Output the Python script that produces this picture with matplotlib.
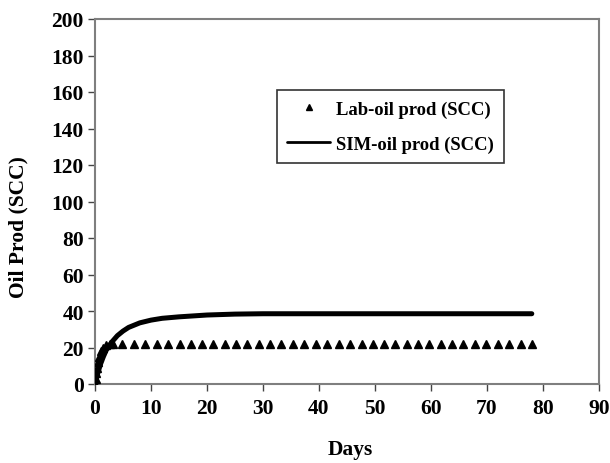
import numpy as np
import matplotlib
matplotlib.use('Agg')
import matplotlib.pyplot as plt

# Lab measured oil production (triangles)
lab_days = [0, 0.1, 0.25, 0.4, 0.6, 0.8, 1.1, 1.5, 2.0, 2.6, 3.3,
            4.9, 6.9, 9.0, 11.0, 13.0, 15.1, 17.1, 19.1, 21.1, 23.2, 25.2,
            27.2, 29.3, 31.3, 33.3, 35.4, 37.4, 39.4, 41.5, 43.5, 45.5,
            47.6, 49.6, 51.6, 53.6, 55.7, 57.7, 59.7, 61.8, 63.8, 65.8,
            67.9, 69.9, 71.9, 74.0, 76.0, 78.0]
lab_oil = [0, 3, 6, 9, 12, 15, 18, 20, 21.5, 22, 22,
           22, 22, 22, 22, 22, 22, 22, 22, 22, 22, 22,
           22, 22, 22, 22, 22, 22, 22, 22, 22, 22,
           22, 22, 22, 22, 22, 22, 22, 22, 22, 22,
           22, 22, 22, 22, 22, 22]

# Simulated oil production (line)
sim_days = [0, 0.5, 1, 1.5, 2, 3, 4, 5, 6, 8, 10, 12, 15, 20, 25, 30, 78]
sim_oil = [0, 6, 11, 15, 18.5, 23, 26.5, 29, 31, 33.5, 35, 36, 36.8, 37.8, 38.3, 38.5, 38.5]

x_ticks = [0, 10, 20, 30, 40, 50, 60, 70, 80, 90]
y_ticks = [0, 20, 40, 60, 80, 100, 120, 140, 160, 180, 200]

plt.rcParams['font.family'] = ['Liberation Serif', 'DejaVu Serif']
plt.rcParams['font.weight'] = 'bold'

fig = plt.figure(figsize=(6.1, 4.64), dpi=100)
ax = fig.add_axes([95/610, 1 - 385/464, 504/610, 365/464])

ax.plot(sim_days, sim_oil, color='black', linewidth=3.6, label='SIM-oil prod (SCC)',
        solid_capstyle='round', zorder=2)
ax.plot(lab_days, lab_oil, linestyle='none', marker='^', color='black', markersize=6,
        label='Lab-oil prod (SCC)', zorder=3)

ax.set_xlim(0, 90)
ax.set_ylim(0, 200)
ax.set_xticks(x_ticks)
ax.set_yticks(y_ticks)
for s in ax.spines.values():
    s.set_color('#7f7f7f')
    s.set_linewidth(1.5)
ax.tick_params(direction='out', length=5, width=1, color='#444444',
               labelsize=15.5, pad=3)
ax.tick_params(axis='x', pad=5)
for lbl in ax.get_xticklabels() + ax.get_yticklabels():
    lbl.set_fontweight('bold')

fig.text(350/610, 1 - 450/464, 'Days', ha='center', va='center',
         fontsize=15.5, fontweight='bold')
fig.text(18/610, 1 - 227/464, 'Oil Prod (SCC)', ha='center', va='center',
         rotation=90, fontsize=15.5, fontweight='bold')

handles, labels = ax.get_legend_handles_labels()
leg = fig.legend(handles[::-1], labels[::-1], loc='upper left',
                 bbox_to_anchor=(277/610, 1 - 91/464), frameon=True,
                 fancybox=False, prop={'size': 13.4, 'weight': 'bold'},
                 handlelength=2.3, borderpad=0.55, labelspacing=0.95,
                 handletextpad=0.3, borderaxespad=0, markerscale=0.7)
leg.get_frame().set_edgecolor('black')
leg.get_frame().set_linewidth(1.2)
leg.legend_handles[1].set_linewidth(2)

fig.savefig('out.png', dpi=100)
